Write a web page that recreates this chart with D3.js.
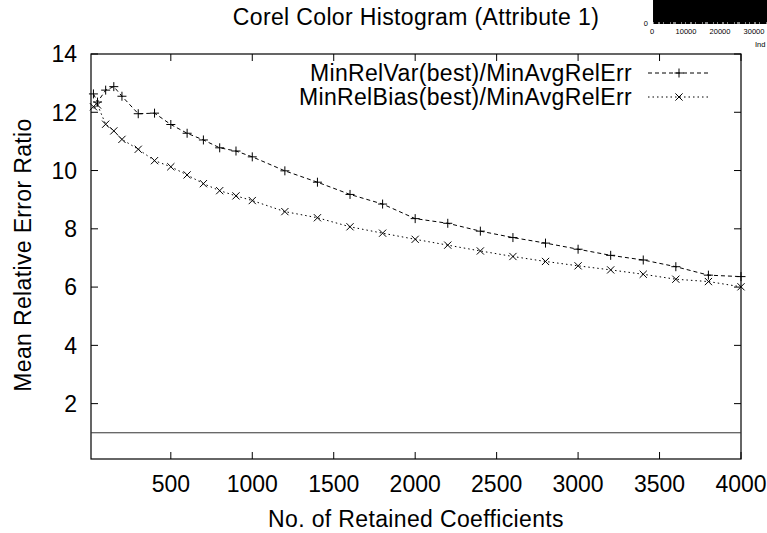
<!DOCTYPE html>
<html>
<head>
<meta charset="utf-8">
<script src="https://cdn.jsdelivr.net/npm/d3@7"></script>
<style>
  body { margin: 0; background: #fff; }
  text { font-family: "Liberation Sans", Arial, sans-serif; fill: #000; }
</style>
</head>
<body>
<svg id="chart"></svg>
<script>
// chart data
const coeffs = [25, 50, 100, 150, 200, 300, 400, 500, 600, 700, 800, 900, 1000, 1200, 1400,
    1600, 1800, 2000, 2200, 2400, 2600, 2800, 3000, 3200, 3400, 3600, 3800, 4000];
const varRatio = [12.63, 12.35, 12.76, 12.88, 12.55, 11.95, 11.97, 11.58, 11.28, 11.05, 10.78, 10.67, 10.47, 9.99, 9.60,
    9.18, 8.85, 8.35, 8.19, 7.92, 7.70, 7.51, 7.30, 7.09, 6.93, 6.70, 6.41, 6.36];
const biasRatio = [12.19, 12.25, 11.59, 11.36, 11.07, 10.73, 10.34, 10.13, 9.85, 9.55, 9.31, 9.13, 8.97, 8.59, 8.38,
    8.07, 7.85, 7.64, 7.44, 7.24, 7.05, 6.88, 6.73, 6.59, 6.44, 6.27, 6.19, 6.01];
const xTicks = [500, 1000, 1500, 2000, 2500, 3000, 3500, 4000];
const yTicks = [2, 4, 6, 8, 10, 12, 14];
const baseline = 1;
const seriesNames = ["MinRelVar(best)/MinAvgRelErr", "MinRelBias(best)/MinAvgRelErr"];
const insetTicks = [0, 10000, 20000, 30000];

const width = 767, height = 533;
const plot = { left: 91, right: 741, top: 54, bottom: 459 };

const svg = d3.select("#chart").attr("width", width).attr("height", height);

const x = d3.scaleLinear().domain([10, 4000]).range([plot.left, plot.right]);
const y = d3.scaleLinear().domain([0.1, 14]).range([plot.bottom, plot.top]);

// fragment of a neighbouring plot cut off at the top right
const xi = d3.scaleLinear().domain([0, 34000]).range([652, 767.6]);
svg.append("rect")
    .attr("x", xi(300)).attr("y", 0)
    .attr("width", width - xi(300)).attr("height", 24)
    .attr("fill", "#000");
svg.append("line")
    .attr("x1", xi(300)).attr("x2", width)
    .attr("y1", 23).attr("y2", 23)
    .attr("stroke", "#fff").attr("stroke-width", 1.2)
    .attr("stroke-dasharray", "1,4,2,3,1,6,1,2,3,5,1,3");
svg.append("g")
    .selectAll("text")
    .data(insetTicks)
    .enter().append("text")
    .attr("x", d => xi(d))
    .attr("y", 34)
    .attr("text-anchor", "middle")
    .attr("font-size", "7.5px")
    .text(d => d);
svg.append("text")
    .attr("x", 648).attr("y", 26)
    .attr("text-anchor", "end")
    .attr("font-size", "7.5px")
    .text("0");
svg.append("text")
    .attr("x", 755).attr("y", 47)
    .attr("font-size", "7.5px")
    .text("Ind");

// title
svg.append("text")
    .attr("x", 416).attr("y", 25)
    .attr("text-anchor", "middle")
    .attr("font-size", "23px")
    .attr("letter-spacing", "0.35px")
    .text("Corel Color Histogram (Attribute 1)");

// frame and ticks
const axes = svg.append("g").attr("class", "axes");
axes.append("rect")
    .attr("x", plot.left).attr("y", plot.top)
    .attr("width", plot.right - plot.left).attr("height", plot.bottom - plot.top)
    .attr("fill", "none").attr("stroke", "#000").attr("stroke-width", 1.2);

const tickLen = 7;
axes.selectAll(".xtick")
    .data(xTicks)
    .enter().append("path")
    .attr("class", "xtick")
    .attr("d", d => `M${x(d)},${plot.bottom}v${-tickLen}M${x(d)},${plot.top}v${tickLen}`)
    .attr("stroke", "#000");
axes.selectAll(".ytick")
    .data(yTicks)
    .enter().append("path")
    .attr("class", "ytick")
    .attr("d", d => `M${plot.left},${y(d)}h${tickLen}M${plot.right},${y(d)}h${-tickLen}`)
    .attr("stroke", "#000");

axes.selectAll(".xlabel")
    .data(xTicks)
    .enter().append("text")
    .attr("class", "xlabel")
    .attr("x", d => x(d))
    .attr("y", 492)
    .attr("text-anchor", "middle")
    .attr("font-size", "23px")
    .text(d => d);
axes.selectAll(".ylabel")
    .data(yTicks)
    .enter().append("text")
    .attr("class", "ylabel")
    .attr("x", 77)
    .attr("y", d => y(d))
    .attr("dy", "0.36em")
    .attr("text-anchor", "end")
    .attr("font-size", "23px")
    .text(d => d);

svg.append("text")
    .attr("x", 416).attr("y", 527)
    .attr("text-anchor", "middle")
    .attr("font-size", "23px")
    .attr("letter-spacing", "0.35px")
    .text("No. of Retained Coefficients");
svg.append("text")
    .attr("transform", "translate(31,255) rotate(-90)")
    .attr("text-anchor", "middle")
    .attr("font-size", "23px")
    .attr("letter-spacing", "0.35px")
    .text("Mean Relative Error Ratio");

// reference line at ratio 1
svg.append("line")
    .attr("x1", plot.left).attr("x2", plot.right)
    .attr("y1", y(baseline)).attr("y2", y(baseline))
    .attr("stroke", "#333").attr("stroke-width", 1);

// series
const series = [
    { name: seriesNames[0], values: varRatio, dash: "4,3", marker: "plus" },
    { name: seriesNames[1], values: biasRatio, dash: "1.5,3", marker: "cross" }
];
const markerPath = (type, cx, cy) => {
    const s = type === "plus" ? 4.5 : 3.6;
    return type === "plus"
        ? `M${cx - s},${cy}h${2 * s}M${cx},${cy - s}v${2 * s}`
        : `M${cx - s},${cy - s}l${2 * s},${2 * s}M${cx - s},${cy + s}l${2 * s},${-2 * s}`;
};

const line = d3.line()
    .x(d => x(d[0]))
    .y(d => y(d[1]));

series.forEach((s, k) => {
    const pts = coeffs.map((c, i) => [c, s.values[i]]);
    const g = svg.append("g").attr("class", "series");
    g.append("path")
        .attr("d", line(pts))
        .attr("fill", "none")
        .attr("stroke", "#000")
        .attr("stroke-width", 1)
        .attr("stroke-dasharray", s.dash);
    g.selectAll(".pt")
        .data(pts)
        .enter().append("path")
        .attr("class", "pt")
        .attr("d", d => markerPath(s.marker, x(d[0]), y(d[1])))
        .attr("stroke", "#000")
        .attr("stroke-width", 1)
        .attr("fill", "none");

    // legend entry
    const ly = 73 + k * 24;
    svg.append("text")
        .attr("x", 632).attr("y", ly)
        .attr("dy", "0.36em")
        .attr("text-anchor", "end")
        .attr("font-size", "23px")
        .attr("letter-spacing", "0.35px")
        .text(s.name);
    svg.append("line")
        .attr("x1", 648).attr("x2", 711)
        .attr("y1", ly).attr("y2", ly)
        .attr("stroke", "#000")
        .attr("stroke-dasharray", s.dash);
    svg.append("path")
        .attr("d", markerPath(s.marker, 679, ly))
        .attr("stroke", "#000")
        .attr("fill", "none");
});
</script>
</body>
</html>
